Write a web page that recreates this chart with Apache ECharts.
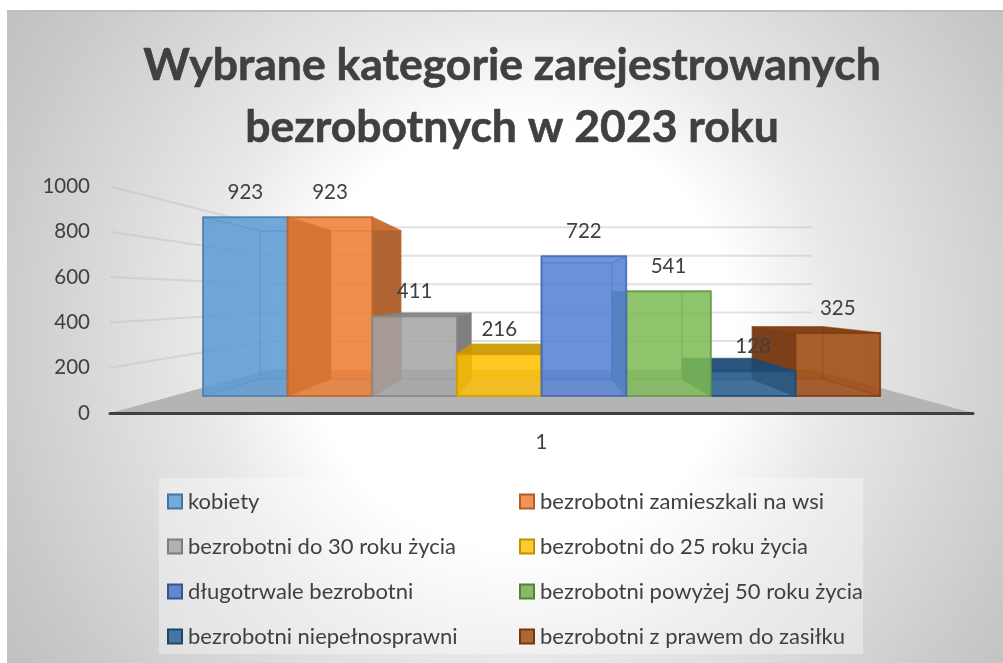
<!DOCTYPE html>
<html><head><meta charset="utf-8">
<style>html,body{margin:0;padding:0;background:#fff}#c{width:1003px;height:663px}</style>
<script src="https://cdn.jsdelivr.net/npm/echarts@6/dist/echarts.min.js"></script>
</head><body><div id="c"></div>
<script>
const titleText = 'Wybrane kategorie zarejestrowanych\nbezrobotnych w 2023 roku';
const categories = ['1'];
const seriesNames = ['kobiety','bezrobotni zamieszkali na wsi','bezrobotni do 30 roku życia','bezrobotni do 25 roku życia','długotrwale bezrobotni','bezrobotni powyżej 50 roku życia','bezrobotni niepełnosprawni','bezrobotni z prawem do zasiłku'];
const seriesValues = [923,923,411,216,722,541,128,325];
const seriesColors = ['#5B9BD5','#ED7D31','#A5A5A5','#FFC000','#4472C4','#70AD47','#255E91','#9E480E'];
const faceColors = ['#5B9BD5','#ED7D31','#A5A5A5','#FFC000','#5580D6','#7DBB55','#255E91','#9E480E'];
const innerSideShade = [1,0.72,1,0.88,1,1,0.9,1];
const innerSideAlpha = [0.5,0.78,0.5,0.6,0.5,0.5,0.5,0.5];
const gridTicks = [0,200,400,600,800,1000];
const drawOrder = [0,1,2,3,7,6,5,4];

const FONT = 'Lato, "Open Sans", sans-serif';
const TXT = '#404040';
const VX = 541, VY = 296;
const T_FRONT = 0.855, T_BACK = 0.71, T_WALL = 0.628;
const GROUP_MARGIN = 0.0414, BAR_W = 0.1147;

function rgba(hex, a, k){ k = k===undefined?1:k;
  const n = parseInt(hex.slice(1),16);
  return `rgba(${Math.round((n>>16&255)*k)},${Math.round((n>>8&255)*k)},${Math.round((n&255)*k)},${a})`;
}
function proj(p,t){ return [VX+(p[0]-VX)*t, VY+(p[1]-VY)*t]; }

function renderBar(seriesIdx){
  return function(params, api){
    const v = api.value(1);
    const c = faceColors[seriesIdx];
    const base = api.coord([0,0]), top = api.coord([0,v]);
    const band = api.size([1,0])[0];
    const left = base[0]-band/2;
    const x0 = left + band*(GROUP_MARGIN + BAR_W*seriesIdx), x1 = x0 + band*BAR_W;
    const q = (x,y,t)=>proj([x,y],t);
    const fa=q(x0,base[1],T_FRONT), fb=q(x1,base[1],T_FRONT), fc=q(x1,top[1],T_FRONT), fd=q(x0,top[1],T_FRONT);
    const ba=q(x0,base[1],T_BACK), bb=q(x1,base[1],T_BACK), bc=q(x1,top[1],T_BACK), bd=q(x0,top[1],T_BACK);
    const edge = rgba(c,0.8,0.82), thin = rgba(c,0.35,0.8);
    const poly=(pts,fill,stroke,w)=>({type:'polygon',shape:{points:pts},style:{fill,stroke:stroke||null,lineWidth:w||0,lineJoin:'round'}});
    const dark = rgba(c,0.88,0.7), inner = rgba(c,innerSideAlpha[seriesIdx],innerSideShade[seriesIdx]);
    const leftOfCentre = seriesIdx<4;
    const topFill = fd[1]<VY ? rgba(c,0.42) : rgba(c,0.88,0.78);
    const children = [
      poly([ba,bb,bc,bd], rgba(c,0.5), thin, 1.5),
      poly([fa,ba,bb,fb], rgba(c,0.25), thin, 1),
      poly([fa,ba,bd,fd], leftOfCentre?inner:dark, thin, 1.5),
      poly([fb,bb,bc,fc], leftOfCentre?dark:inner, thin, 1.5),
      poly([fd,bd,bc,fc], topFill, thin, 1.5),
      poly([fa,fb,fc,fd], rgba(c,0.73), edge, 2),
      {type:'text',z2:100,style:{text:String(v),x:(fa[0]+fb[0])/2,y:fd[1]-25,fill:TXT,font:'20.5px '+FONT,textAlign:'center',textVerticalAlign:'middle'}}
    ];
    return {type:'group',children};
  };
}

function renderScene(params, api){
  const v = api.value(0);
  const base = api.coord([0,v]);
  const band = api.size([1,0])[0];
  const L = base[0]-band/2, R = base[0]+band/2, y = base[1];
  const a = proj([L,y],T_WALL), b = proj([R,y],T_WALL);
  const children = [];
  if (v===0){
    children.push({type:'polygon',shape:{points:[[L,y],[R,y],b,a]},style:{fill:'#b4b4b4'}});
    return {type:'group',children};
  }
  const st = {stroke:'rgba(190,190,190,0.45)',lineWidth:2};
  children.push({type:'line',shape:{x1:L,y1:y,x2:a[0],y2:a[1]},style:st});
  children.push({type:'line',shape:{x1:a[0],y1:a[1],x2:b[0],y2:b[1]},style:st});
  return {type:'group',children};
}

const barSeries = drawOrder.map(i=>({
  type:'custom', name:seriesNames[i], coordinateSystem:'cartesian2d', clip:false,
  itemStyle:{color:seriesColors[i]}, encode:{x:0,y:1},
  data:[[0,seriesValues[i]]], renderItem:renderBar(i), silent:true, z:3
}));
const sceneSeries = {type:'custom',name:'scene',coordinateSystem:'cartesian2d',clip:false,silent:true,z:2,
  encode:{y:0}, data:gridTicks.map(t=>[t]), renderItem:renderScene};

const legendItem = i=>({name:seriesNames[i],icon:'rect',itemStyle:{color:rgba(seriesColors[i],0.82),borderColor:rgba(seriesColors[i],1,0.75),borderWidth:2}});
const legendCommon = {orient:'vertical',top:490.5,itemWidth:14,itemHeight:14,itemGap:23,selectedMode:false,padding:0,
  textStyle:{fontFamily:FONT,fontSize:22,color:TXT,lineHeight:22,padding:[0,0,0,1]}};

const chart = echarts.init(document.getElementById('c'),null,{renderer:'canvas',width:1003,height:663});
chart.setOption({
  animation:false,
  backgroundColor:'#fff',
  title:{text:titleText,left:507,top:30,textAlign:'center',textStyle:{fontFamily:FONT,fontSize:44.5,fontWeight:'bold',color:TXT,lineHeight:62,textBorderColor:TXT,textBorderWidth:0.6}},
  grid:{left:110,right:30,top:186.5,bottom:250,containLabel:false},
  xAxis:{type:'category',data:categories,z:5,axisTick:{show:false},
    axisLine:{lineStyle:{color:'#404040',width:3}},
    axisLabel:{fontFamily:FONT,fontSize:20.5,color:TXT,margin:19}},
  yAxis:{type:'value',min:0,max:1000,interval:200,axisLine:{show:false},axisTick:{show:false},splitLine:{show:false},
    axisLabel:{fontFamily:FONT,fontSize:20.5,color:TXT,margin:20,formatter:v=>String(v)}},
  legend:[
    Object.assign({},legendCommon,{left:167,data:[0,2,4,6].map(legendItem)}),
    Object.assign({},legendCommon,{left:519,data:[1,3,5,7].map(legendItem)})
  ],
  graphic:[
    {type:'rect',z:-10,silent:true,shape:{x:7,y:10,width:996,height:653},
      style:{fill:new echarts.graphic.RadialGradient(520,335,630,[
        {offset:0,color:'#ffffff'},{offset:0.34,color:'#ffffff'},{offset:0.51,color:'#e8e8e8'},{offset:0.85,color:'#c9c9c9'},{offset:1,color:'#bebebe'}],true)}},
    {type:'rect',z:-9,silent:true,shape:{x:7,y:10,width:996,height:2},style:{fill:'#bdbdbd'}},
    {type:'rect',z:-8,silent:true,shape:{x:159,y:478,width:704,height:176},style:{fill:'rgba(255,255,255,0.35)'}}
  ],
  series:[sceneSeries].concat(barSeries)
});
</script></body></html>
